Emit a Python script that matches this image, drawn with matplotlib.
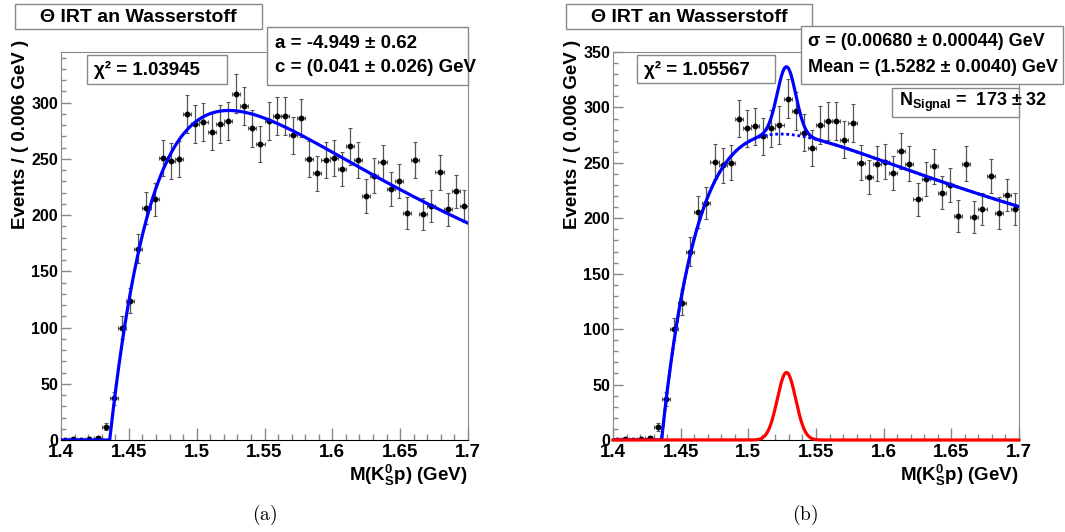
import numpy as np
import matplotlib
matplotlib.use("Agg")
import matplotlib.pyplot as plt
from matplotlib.patches import Rectangle
from matplotlib.ticker import MultipleLocator

plt.rcParams['font.family'] = ['Liberation Sans', 'DejaVu Sans']
plt.rcParams['font.weight'] = 'bold'
plt.rcParams['mathtext.fontset'] = 'custom'
plt.rcParams['mathtext.rm'] = 'Liberation Sans:bold'
plt.rcParams['mathtext.it'] = 'Liberation Sans:bold'
plt.rcParams['mathtext.bf'] = 'Liberation Sans:bold'

# M(K0s p) histogram, 0.006 GeV bins from 1.4 to 1.7 GeV
BIN = 0.006
mass = np.arange(1.403, 1.7, BIN)
counts = np.array([0, 1, 0, 1, 2, 12, 37, 100, 124, 170,
                   206, 214, 251, 248, 250, 290, 281, 283, 274, 281,
                   284, 308, 297, 277, 263, 284, 288, 288, 271, 286,
                   250, 237, 249, 251, 241, 261, 249, 217, 235, 247,
                   223, 230, 202, 249, 201, 208, 238, 205, 221, 208])

M0 = 1.4359  # K0s + p threshold (GeV)

# fit (a): threshold background only
a_fit, c_fit, a_peak = -4.949, 0.041, 293
chi2_a = "1.03945"
# fit (b): background + gaussian
b_a, b_c, b_peak = -3.0, 0.0305, 276
sig_mean, sig_sigma, sig_n = 1.5282, 0.00680, 173
chi2_b = "1.05567"

W, H = 1065, 532
BLUE = '#0000ff'
RED = '#ff0000'
GRAY = '#888888'


def threshold(m, a, c, peak):
    u = np.clip(m - M0, 0, None)
    f = (1 - np.exp(-u / c)) * (m / M0) ** a
    return f / f.max() * peak


def gauss(m):
    amp = sig_n * BIN / (np.sqrt(2 * np.pi) * sig_sigma)
    return amp * np.exp(-0.5 * ((m - sig_mean) / sig_sigma) ** 2)


fig = plt.figure(figsize=(W / 100, H / 100), dpi=100)


def box(x0, y0, x1, y1):
    fig.add_artist(Rectangle((x0 / W, 1 - y1 / H), (x1 - x0) / W, (y1 - y0) / H,
                             transform=fig.transFigure, facecolor='white',
                             edgecolor=GRAY, lw=1.0, zorder=5))


def txt(x, y, s, size=13, ha='left'):
    fig.text(x / W, 1 - y / H, s, fontsize=size, fontweight='bold', ha=ha,
             va='center', zorder=6)


def setup(ax, ymax):
    ax.set_xlim(1.4, 1.7)
    ax.set_ylim(0, ymax)
    ax.xaxis.set_major_locator(MultipleLocator(0.05))
    ax.xaxis.set_minor_locator(MultipleLocator(0.01))
    ax.yaxis.set_major_locator(MultipleLocator(50))
    ax.yaxis.set_minor_locator(MultipleLocator(10))
    ax.set_xticks([1.4, 1.45, 1.5, 1.55, 1.6, 1.65, 1.7],
                  ['1.4', '1.45', '1.5', '1.55', '1.6', '1.65', '1.7'])
    ax.tick_params(axis='x', which='major', direction='in', length=8.5, width=1,
                   color=GRAY, labelsize=13.5, pad=3)
    ax.tick_params(axis='x', which='minor', direction='in', length=4.3, width=1, color=GRAY)
    ax.tick_params(axis='y', which='major', direction='in', length=7, width=1,
                   color=GRAY, labelsize=11.5, pad=2)
    ax.tick_params(axis='y', which='minor', direction='in', length=3.6, width=1, color=GRAY)
    for sp in ax.spines.values():
        sp.set_color(GRAY)
    ax.spines['bottom'].set_color('black')
    ax.set_ylabel('Events / ( 0.006 GeV )', fontsize=13.5, fontweight='bold', loc='top')
    ax.yaxis.set_label_coords(-0.078, 1.03)
    ax.set_xlabel(r'M(K$_{S}^{0}$p) (GeV)', fontsize=13.5, fontweight='bold', loc='right')
    ax.xaxis.set_label_coords(1.0, -0.06)
    ax.errorbar(mass, counts, xerr=BIN / 2, yerr=np.sqrt(counts), fmt='o', ms=3.2,
                color='black', ecolor='#555555', elinewidth=0.9, capsize=1.5,
                capthick=0.8, zorder=2)


mm = np.linspace(1.4, 1.7, 1201)

# panel (a)
ax1 = fig.add_axes([61 / W, 1 - 440 / H, 407 / W, 388 / H])
setup(ax1, 345)
ax1.plot(mm, threshold(mm, a_fit, c_fit, a_peak), color=BLUE, lw=2.3, zorder=3)

# panel (b)
ax2 = fig.add_axes([613 / W, 1 - 440 / H, 406 / W, 388 / H])
setup(ax2, 350)
bkg = threshold(mm, b_a, b_c, b_peak)
ax2.plot(mm, bkg, color=BLUE, lw=2.0, ls=(0, (1, 1)), zorder=3)
ax2.plot(mm, bkg + gauss(mm), color=BLUE, lw=2.3, zorder=3)
ax2.plot(mm, gauss(mm), color=RED, lw=2.3, zorder=4, clip_on=False)

# text boxes, panel (a)
box(15, 4, 262, 29)
txt(138, 17, 'Θ IRT an Wasserstoff', 14, ha='center')
box(267, 27, 468, 85)
txt(275, 43, 'a = -4.949 ± 0.62', 13.5)
txt(275, 68, 'c = (0.041 ± 0.026) GeV', 13.5)
box(87, 55, 227, 84)
txt(94, 70, 'χ² = ' + chi2_a, 13.5)

# text boxes, panel (b)
box(566, 4, 812, 29)
txt(689, 17, 'Θ IRT an Wasserstoff', 14, ha='center')
box(801, 26, 1063, 84)
txt(808, 41, 'σ = (0.00680 ± 0.00044) GeV')
txt(808, 68, 'Mean = (1.5282 ± 0.0040) GeV')
box(637, 55, 775, 83)
txt(644, 70, 'χ² = ' + chi2_b, 13.5)
box(892, 88, 1019, 117)
txt(899, 102, r'N$_{Signal}$ =  173 ± 32')

# captions
fig.text(265 / W, 1 - 515 / H, r'$\mathrm{(a)}$', fontsize=14, ha='center',
         va='center', math_fontfamily='cm')
fig.text(805 / W, 1 - 515 / H, r'$\mathrm{(b)}$', fontsize=14, ha='center',
         va='center', math_fontfamily='cm')

fig.savefig('out.png', dpi=100)
